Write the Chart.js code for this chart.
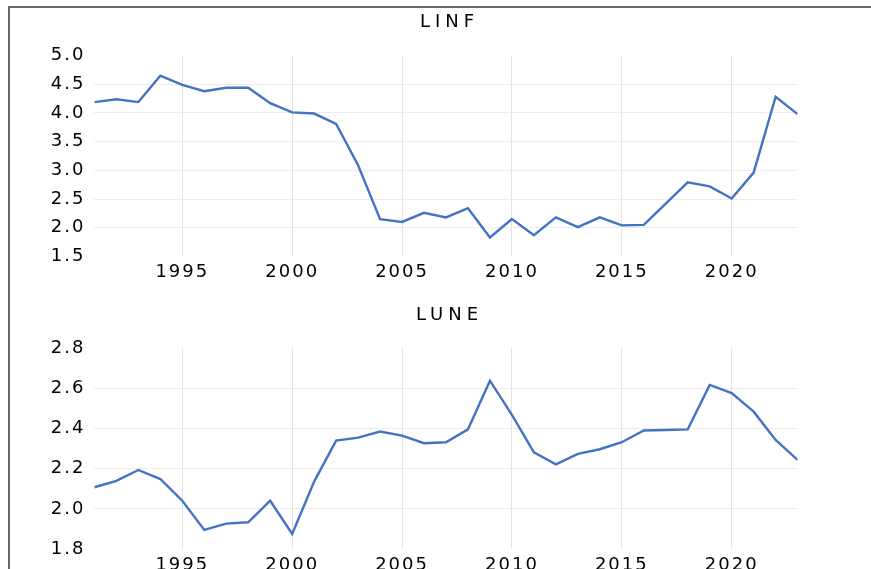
<!DOCTYPE html>
<html>
<head>
<meta charset="utf-8">
<script src="https://cdn.jsdelivr.net/npm/chart.js@4"></script>
<style>
  html, body { margin: 0; padding: 0; background: #ffffff; }
  body { width: 871px; height: 569px; position: relative; overflow: hidden; }
  #frame { position: absolute; left: 8px; top: 6px; width: 900px; height: 600px;
           border-top: 2px solid #666; border-left: 2px solid #666; box-sizing: border-box; }
  canvas { position: absolute; left: 0; }
  #c1 { top: 0; }
  #c2 { top: 290px; }
</style>
</head>
<body>
<div id="frame"></div>
<canvas id="c1" width="871" height="290"></canvas>
<canvas id="c2" width="871" height="279"></canvas>
<script>
// ---- data ----
const years = [1991,1992,1993,1994,1995,1996,1997,1998,1999,2000,
               2001,2002,2003,2004,2005,2006,2007,2008,2009,2010,
               2011,2012,2013,2014,2015,2016,2017,2018,2019,2020,
               2021,2022,2023];
const linf = [4.19,4.24,4.19,4.65,4.49,4.38,4.44,4.44,4.17,4.01,
              3.99,3.81,3.09,2.15,2.10,2.26,2.18,2.34,1.83,2.15,
              1.87,2.18,2.01,2.18,2.04,2.05,2.42,2.79,2.72,2.51,
              2.96,4.28,3.98];
const lune = [2.108,2.140,2.194,2.149,2.041,1.896,1.927,1.934,2.041,1.876,
              2.136,2.340,2.355,2.385,2.365,2.327,2.332,2.396,2.638,2.468,
              2.282,2.222,2.274,2.297,2.332,2.390,2.393,2.396,2.617,2.576,
              2.484,2.343,2.244];
const xTicks = [1995,2000,2005,2010,2015,2020];
const linfTicks = [1.5,2.0,2.5,3.0,3.5,4.0,4.5,5.0];
const luneTicks = [1.8,2.0,2.2,2.4,2.6,2.8];
const titles = ['LINF','LUNE'];

const FONT = 'DejaVu Sans';
const TICK_SPACING = 2;
const TITLE_SPACING = 5;

const spacingPlugin = {
  id: 'spacing',
  beforeDraw(chart) { chart.ctx.letterSpacing = TICK_SPACING + 'px'; }
};
const titlePlugin = {
  id: 'panelTitle',
  afterDraw(chart, args, opts) {
    const ctx = chart.ctx, a = chart.chartArea;
    ctx.save();
    ctx.letterSpacing = TITLE_SPACING + 'px';
    ctx.font = '18px "' + FONT + '"';
    ctx.fillStyle = '#000000';
    ctx.textAlign = 'center';
    ctx.textBaseline = 'middle';
    ctx.fillText(opts.text, (a.left + a.right) / 2 + TITLE_SPACING / 2 + 1, a.top - opts.gap);
    ctx.restore();
  }
};

function makeChart(id, title, values, yTicks, top, bottomAxisH) {
  const yMin = yTicks[0], yMax = yTicks[yTicks.length - 1];
  const step = +(yTicks[1] - yTicks[0]).toFixed(3);
  return new Chart(document.getElementById(id), {
    type: 'line',
    data: {
      datasets: [{
        data: years.map((y, i) => ({ x: y, y: values[i] })),
        borderColor: '#4472C4',
        borderWidth: 2.4,
        pointRadius: 0,
        tension: 0,
        fill: false
      }]
    },
    options: {
      responsive: false,
      animation: false,
      devicePixelRatio: 1,
      layout: { padding: { top: top, right: 73.4, left: 0, bottom: 0 } },
      plugins: {
        legend: { display: false },
        tooltip: { enabled: false },
        title: { display: false },
        panelTitle: { text: title, gap: 33 }
      },
      scales: {
        x: {
          type: 'linear',
          min: years[0],
          max: years[years.length - 1],
          afterBuildTicks(s) { s.ticks = xTicks.map(v => ({ value: v })); },
          afterFit(s) { s.height = bottomAxisH; s.paddingLeft = 0; s.paddingRight = 0; },
          border: { display: false },
          grid: { color: '#e4e4e4', lineWidth: 1, drawTicks: false },
          ticks: {
            autoSkip: false, maxRotation: 0, padding: 5,
            color: '#000000',
            font: { family: FONT, size: 18 },
            callback: v => String(v)
          }
        },
        y: {
          min: yMin,
          max: yMax,
          afterBuildTicks(s) { s.ticks = yTicks.map(v => ({ value: v })); },
          afterFit(s) { s.width = 94.4; s.paddingTop = 0; s.paddingBottom = 0; },
          border: { display: false },
          grid: {
            drawTicks: false, lineWidth: 1,
            color: c => (c.index === 0 || c.index === yTicks.length - 1) ? 'rgba(0,0,0,0)' : '#ececec'
          },
          ticks: {
            padding: 9,
            color: '#000000',
            font: { family: FONT, size: 18 },
            stepSize: step,
            callback: v => Number(v).toFixed(1)
          }
        }
      }
    },
    plugins: [spacingPlugin, titlePlugin]
  });
}

makeChart('c1', titles[0], linf, linfTicks, 55.6, 290 - 256.4);
makeChart('c2', titles[1], lune, luneTicks, 348.1 - 290, 279 - (549.2 - 290));
</script>
</body>
</html>
